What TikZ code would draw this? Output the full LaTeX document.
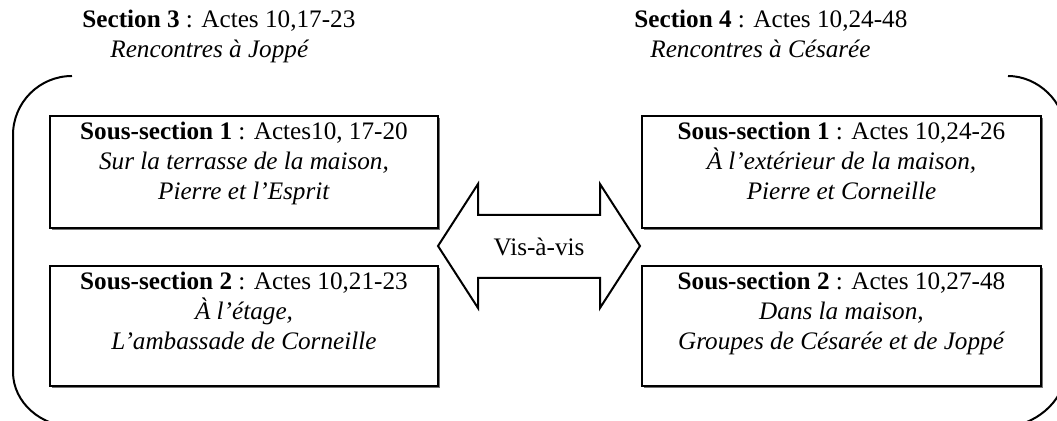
\documentclass[tikz,border=0pt]{standalone}
\usepackage{fontspec}
\setmainfont{Liberation Serif}
\usetikzlibrary{shadows}
\begin{document}
\begin{tikzpicture}[x=0.5pt,y=-0.5pt,
  every node/.style={font=\fontsize{12.6}{15}\selectfont},
  sbox/.style={draw, line width=1pt, fill=white, inner sep=0pt, anchor=north west,
    minimum width=194pt, minimum height=56pt,
    drop shadow={shadow xshift=1pt, shadow yshift=-1pt, fill=black!55, opacity=1}},
  rbox/.style={sbox, minimum width=199.5pt},
  stext/.style={align=center, inner sep=0pt, anchor=north},
  title/.style={align=left, inner sep=0pt, anchor=north west},
  frame/.style={line width=1pt},
  arrowshape/.style={draw, line width=1pt, line join=miter, fill=white}
]
\useasboundingbox (0,0) rectangle (1057,421);

% Section titles
\node[title] (t3) at (82,10) {\textbf{Section 3} : Actes 10,17-23\\
  \hspace*{14pt}\textit{Rencontres à Joppé}};
\node[title] (t4) at (634,10) {\textbf{Section 4} : Actes 10,24-48\\
  \hspace*{8pt}\textit{Rencontres à Césarée}};

% Bracket frame around the two sections
\begin{scope}
  \clip (0,0) rectangle (1057,421);
  \draw[frame] (72,76) .. controls (39.4,76) and (13,102.4) .. (13,135)
    -- (13,372) .. controls (13,402.4) and (40.8,427) .. (75,427);
  \draw[frame] (1008,76) .. controls (1038,76) and (1065,102) .. (1065,131)
    -- (1065,372) .. controls (1065,402) and (1033,427) .. (1003,427);
\end{scope}

% Sub-section boxes
\node[sbox] (a1) at (49,115) {};
\node[stext] at ([yshift=-3.2pt]a1.north) {\textbf{Sous-section 1} : Actes10, 17-20\\
  \textit{Sur la terrasse de la maison,}\\ \textit{Pierre et l’Esprit}};
\node[sbox, minimum height=60pt] (a2) at (49,265) {};
\node[stext] at ([yshift=-3.2pt]a2.north) {\textbf{Sous-section 2} : Actes 10,21-23\\
  \textit{À l’étage,}\\ \textit{L’ambassade de Corneille}};
\node[rbox] (b1) at (641,115) {};
\node[stext] at ([yshift=-3.2pt]b1.north) {\textbf{Sous-section 1} : Actes 10,24-26\\
  \textit{À l’extérieur de la maison,}\\ \textit{Pierre et Corneille}};
\node[rbox, minimum height=60pt] (b2) at (641,265) {};
\node[stext] at ([yshift=-3.2pt]b2.north) {\textbf{Sous-section 2} : Actes 10,27-48\\
  \textit{Dans la maison,}\\ \textit{Groupes de Césarée et de Joppé}};

% Double arrow between the two sections
\coordinate (L) at (438,246);
\coordinate (R) at (640,246);
\draw[arrowshape] (L) -- (478,184) -- (478,215) -- (600,215) -- (600,184) -- (R)
  -- (600,308) -- (600,278) -- (478,278) -- (478,308) -- cycle;
\node (vav) at (539,247) {Vis-à-vis};
\end{tikzpicture}
\end{document}
